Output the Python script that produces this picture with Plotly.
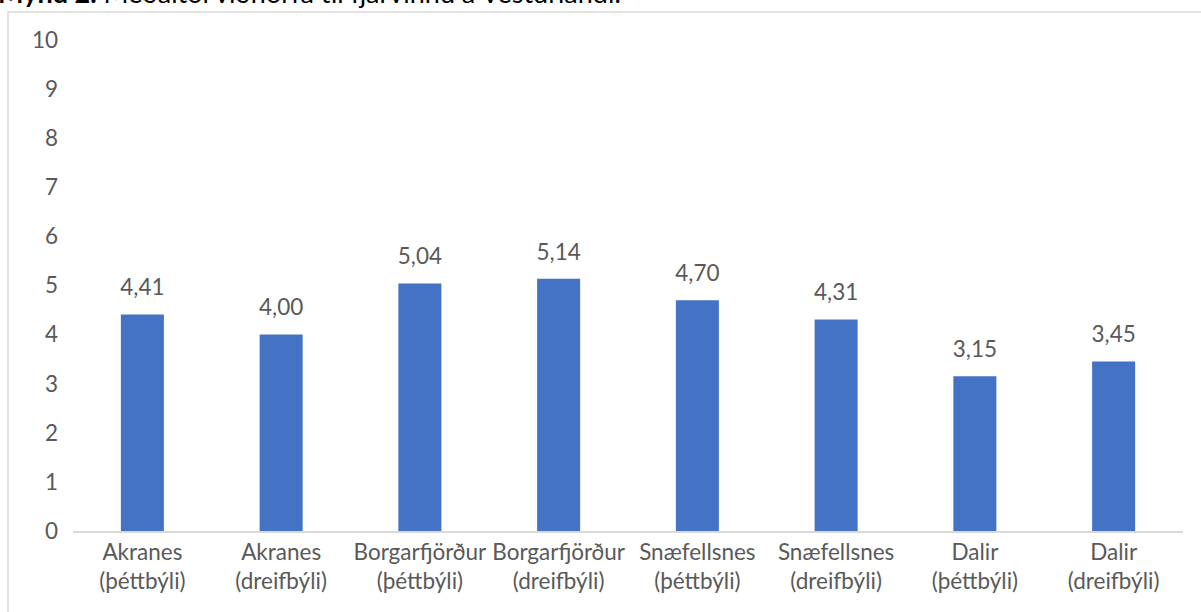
import plotly.graph_objects as go

categories = ["Akranes<br>(þéttbýli)", "Akranes<br>(dreifbýli)", "Borgarfjörður<br>(þéttbýli)",
              "Borgarfjörður<br>(dreifbýli)", "Snæfellsnes<br>(þéttbýli)", "Snæfellsnes<br>(dreifbýli)",
              "Dalir<br>(þéttbýli)", "Dalir<br>(dreifbýli)"]
values = [4.41, 4.00, 5.04, 5.14, 4.70, 4.31, 3.15, 3.45]
value_labels = [f"{v:.2f}".replace(".", ",") for v in values]
y_ticks = list(range(0, 11))

FONT = "Lato, Carlito, Calibri, sans-serif"
GRAY = "#595959"
FS = 22.5

fig = go.Figure()
fig.add_trace(go.Bar(x=categories, y=values, marker_color="#4472C4",
                     marker_line_width=0, hoverinfo="skip"))
fig.add_trace(go.Scatter(x=categories, y=values, mode="markers+text", text=value_labels,
                         textposition="top center",
                         marker=dict(size=20, opacity=0),
                         textfont=dict(family=FONT, size=FS, color=GRAY),
                         hoverinfo="skip", cliponaxis=False))

W, H = 1201, 612
L, R, T, B = 73, 18, 40, 81
pw, ph = W - L - R, H - T - B

def px_x(p):
    return (p - L) / pw

def px_y(p):
    return (H - B - p) / ph

fig.add_shape(type="rect", xref="paper", yref="paper",
              x0=px_x(8), x1=px_x(1215), y0=px_y(640), y1=px_y(12),
              line=dict(color="#d9d9d9", width=1.5), fillcolor="rgba(0,0,0,0)", layer="below")

fig.add_annotation(xref="paper", yref="paper", x=px_x(-4), y=px_y(11),
                   xanchor="left", yanchor="bottom", showarrow=False,
                   text="<b>Mynd 2.</b> Meðaltöl viðhorfa til fjarvinnu á Vesturlandi.",
                   font=dict(family=FONT, size=27, color="#000000"))

fig.update_layout(
    width=W, height=H,
    margin=dict(l=L, r=R, t=T, b=B),
    paper_bgcolor="white", plot_bgcolor="white",
    showlegend=False,
    bargap=0.69,
    font=dict(family=FONT, size=FS, color=GRAY),
    xaxis=dict(showgrid=False, showline=True, linecolor="#d9d9d9", linewidth=1.5,
               ticks="", tickfont=dict(family=FONT, size=FS, color=GRAY), fixedrange=True),
    yaxis=dict(range=[0, 10], tickvals=y_ticks, showgrid=False, zeroline=False,
               showline=False, ticks="", ticklabelstandoff=14,
               tickfont=dict(family=FONT, size=FS, color=GRAY), fixedrange=True),
)

fig.write_html("out.html", config={"displayModeBar": False},
               post_script="document.body.style.margin='0';")
